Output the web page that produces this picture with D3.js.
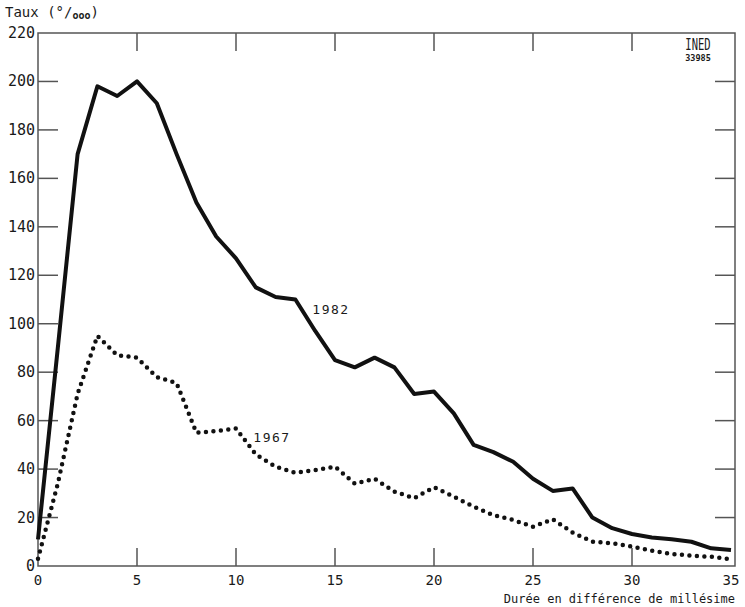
<!DOCTYPE html>
<html>
<head>
<meta charset="utf-8">
<script src="https://cdn.jsdelivr.net/npm/d3@7"></script>
<style>
  body { margin: 0; background: white; }
  text { font-family: "DejaVu Sans Mono", monospace; fill: #1a1a1a; }
</style>
</head>
<body>
<div id="container"></div>
<script>
// durations 0..35 (difference de millesime)
let years = d3.range(0, 36);

// rates per 10 000
let rate1982 = [11, 90, 170, 198, 194, 200, 191, 170, 150, 136, 127, 115, 111, 110, 97,
  85, 82, 86, 82, 71, 72, 63, 50, 47, 43, 36, 31, 32, 20, 15.6, 13.2, 11.8, 11, 10, 7.3, 6.6];
let rate1967 = [3, 34, 71, 95, 87, 86, 78, 75.5, 55, 55.7, 56.8, 46, 41, 38.5, 39.6,
  41, 34, 36, 30.7, 28, 32.5, 28.6, 24.5, 21, 19, 16.2, 19.3, 13.8, 10, 9.4, 8, 6.3, 5, 4.3, 3.8, 2.8];

let xTicks = [0, 5, 10, 15, 20, 25, 30, 35];
let yTicks = [0, 20, 40, 60, 80, 100, 120, 140, 160, 180, 200, 220];

let w = 745;
let h = 607;
let padLeft = 38, padRight = 735, padTop = 33, padBottom = 566;

let viz = d3.select("#container")
  .append("svg")
    .attr("width", w)
    .attr("height", h)
;

let xScale = d3.scaleLinear().domain([0, 35]).range([padLeft, 731]);
let yScale = d3.scaleLinear().domain([0, 220]).range([padBottom, padTop]);

let frameColor = "#555";

// frame
viz.append("rect")
  .attr("x", padLeft)
  .attr("y", padTop)
  .attr("width", padRight - padLeft)
  .attr("height", padBottom - padTop)
  .attr("fill", "none")
  .attr("stroke", frameColor)
  .attr("stroke-width", 1.5)
;

// ticks on all four sides, pointing inward
let ticks = viz.append("g").attr("class", "ticks").attr("stroke", frameColor).attr("stroke-width", 1.5);

xTicks.filter(d => d > 0 && d < 35).forEach(function(d){
  ticks.append("line").attr("x1", xScale(d)).attr("x2", xScale(d)).attr("y1", padBottom).attr("y2", padBottom - 18);
  ticks.append("line").attr("x1", xScale(d)).attr("x2", xScale(d)).attr("y1", padTop).attr("y2", padTop + 18);
});
yTicks.filter(d => d > 0 && d < 220).forEach(function(d){
  ticks.append("line").attr("x1", padLeft).attr("x2", padLeft + 20).attr("y1", yScale(d)).attr("y2", yScale(d));
  ticks.append("line").attr("x1", padRight).attr("x2", padRight - 20).attr("y1", yScale(d)).attr("y2", yScale(d));
});

// tick labels
viz.append("g").selectAll("text")
  .data(yTicks)
  .enter()
  .append("text")
    .text(d => d)
    .attr("x", 35)
    .attr("y", d => yScale(d) + 5)
    .attr("text-anchor", "end")
    .attr("font-size", 15)
;

viz.append("g").selectAll("text")
  .data(xTicks)
  .enter()
  .append("text")
    .text(d => d)
    .attr("x", d => xScale(d))
    .attr("y", 585)
    .attr("text-anchor", "middle")
    .attr("font-size", 14)
;

// axis titles
let yTitle = viz.append("text")
  .attr("x", 5)
  .attr("y", 17)
  .attr("font-size", 14)
;
yTitle.append("tspan").text("Taux (°/");
yTitle.append("tspan").text("ooo").attr("font-size", 10).attr("font-weight", "bold").attr("dy", 2);
yTitle.append("tspan").text(")").attr("dy", -2);

viz.append("text")
  .text("Durée en différence de millésime")
  .attr("x", 735)
  .attr("y", 603)
  .attr("text-anchor", "end")
  .attr("font-size", 12)
;

// INED mark
viz.append("text")
  .text("INED")
  .attr("x", 698)
  .attr("y", 50)
  .attr("text-anchor", "middle")
  .attr("font-family", "Liberation Sans Narrow, DejaVu Sans Condensed, sans-serif")
  .attr("font-size", 15)
  .attr("transform", "translate(698,50) scale(0.7,1) translate(-698,-50)")
;
viz.append("text")
  .text("33985")
  .attr("x", 698)
  .attr("y", 61)
  .attr("text-anchor", "middle")
  .attr("font-family", "DejaVu Sans, sans-serif")
  .attr("font-weight", "bold")
  .attr("font-size", 8.5)
;

// lines
let line = d3.line()
  .x((d, i) => xScale(years[i]))
  .y(d => yScale(d))
;

viz.append("path")
  .attr("d", line(rate1967))
  .attr("fill", "none")
  .attr("stroke", "#111")
  .attr("stroke-width", 4.5)
  .attr("stroke-linecap", "round")
  .attr("stroke-dasharray", "0 7.5")
;

viz.append("path")
  .attr("d", line(rate1982))
  .attr("fill", "none")
  .attr("stroke", "#111")
  .attr("stroke-width", 4)
  .attr("stroke-linejoin", "round")
;

// series labels
viz.append("text")
  .text("1982")
  .attr("x", 331)
  .attr("y", 314)
  .attr("text-anchor", "middle")
  .attr("font-size", 13)
  .attr("letter-spacing", 1.5)
;
viz.append("text")
  .text("1967")
  .attr("x", 272)
  .attr("y", 442)
  .attr("text-anchor", "middle")
  .attr("font-size", 13)
  .attr("letter-spacing", 1.5)
;
</script>
</body>
</html>
